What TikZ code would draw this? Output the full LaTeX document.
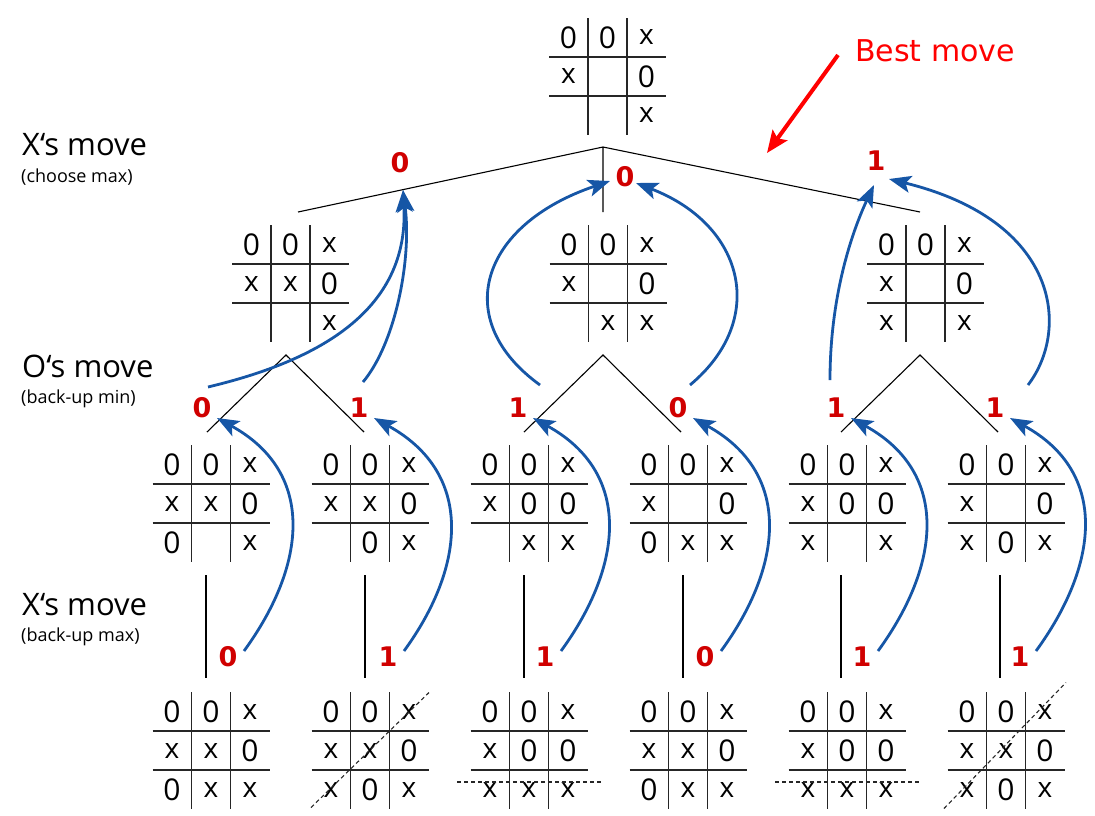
\documentclass[tikz,border=0pt]{standalone}
\usepackage{fontspec}
\setmainfont{Open Sans}
\newfontfamily\numfont{DejaVu Sans}
\usetikzlibrary{arrows.meta}
\definecolor{valred}{RGB}{208,0,0}
\definecolor{arrowblue}{RGB}{22,86,166}
\definecolor{bestred}{RGB}{255,0,0}
\tikzset{
  grid/.style={draw=black!85, line width=1.4pt},
  cell/.style={inner sep=0pt, font=\fontsize{30}{30}\selectfont},
  treeline/.style={draw=black, line width=1.1pt},
  val/.style={inner sep=0pt, text=valred, font=\numfont\bfseries\fontsize{27}{27}\selectfont},
  backup/.style={draw=arrowblue, line width=2.8pt, -{Stealth[length=22pt,width=17pt,inset=5pt]}},
  winline/.style={draw=black!85, line width=1.1pt, dash pattern=on 4pt off 3pt},
  rowlabel/.style={anchor=base west, inner sep=0pt, font=\fontsize{31}{31}\selectfont},
  rowsub/.style={anchor=base west, inner sep=0pt, font=\fontsize{18}{18}\selectfont},
  bestlabel/.style={anchor=base west, inner sep=0pt, text=bestred, font=\numfont\fontsize{30}{30}\selectfont},
}
\newcommand\mkx{{\fontsize{28}{28}\selectfont x}}
\newcommand\tttboard[3]{%
  \coordinate (#1) at (#2);
  \begin{scope}[shift={(#1)}]
    \draw[grid] (-19.5,-58.5) -- (-19.5,58.5) (19.5,-58.5) -- (19.5,58.5)
                (-58.5,-19.5) -- (58.5,-19.5) (-58.5,19.5) -- (58.5,19.5);
    \foreach \s [count=\k from 0] in {#3} {
      \pgfmathtruncatemacro\cc{mod(\k,3)}
      \pgfmathtruncatemacro\rr{\k/3}
      \node[cell] (#1-\k) at ({(\cc-1)*39},{(\rr-1)*39}) {\s};
    }
  \end{scope}
}
\begin{document}
\begin{tikzpicture}[x=1pt,y=-1pt]
\useasboundingbox (0,0) rectangle (1095,815);

% row labels
\node[rowlabel] (lab1) at (22,155) {X‘s move};
\node[rowsub] (sub1) at (21,182) {(choose max)};
\node[rowlabel] (lab2) at (22,377) {O‘s move};
\node[rowsub] (sub2) at (21,403) {(back-up min)};
\node[rowlabel] (lab3) at (22,615) {X‘s move};
\node[rowsub] (sub3) at (21,641) {(back-up max)};

% boards
\tttboard{b0}{607.5,76.5}{0,0,\mkx,\mkx,{},0,{},{},\mkx}
\tttboard{b1}{290.5,283.5}{0,0,\mkx,\mkx,\mkx,0,{},{},\mkx}
\tttboard{b2}{608,283.5}{0,0,\mkx,\mkx,{},0,{},\mkx,\mkx}
\tttboard{b3}{925.5,283.5}{0,0,\mkx,\mkx,{},0,\mkx,{},\mkx}

\tttboard{c1}{211,503.5}{0,0,\mkx,\mkx,\mkx,0,0,{},\mkx}
\tttboard{c2}{370,503.5}{0,0,\mkx,\mkx,\mkx,0,{},0,\mkx}
\tttboard{c3}{529,503.5}{0,0,\mkx,\mkx,0,0,{},\mkx,\mkx}
\tttboard{c4}{688,503.5}{0,0,\mkx,\mkx,{},0,0,\mkx,\mkx}
\tttboard{c5}{847,503.5}{0,0,\mkx,\mkx,0,0,\mkx,{},\mkx}
\tttboard{c6}{1006,503.5}{0,0,\mkx,\mkx,{},0,\mkx,0,\mkx}

\tttboard{d1}{211,750.5}{0,0,\mkx,\mkx,\mkx,0,0,\mkx,\mkx}
\tttboard{d2}{370,750.5}{0,0,\mkx,\mkx,\mkx,0,\mkx,0,\mkx}
\tttboard{d3}{529,750.5}{0,0,\mkx,\mkx,0,0,\mkx,\mkx,\mkx}
\tttboard{d4}{688,750.5}{0,0,\mkx,\mkx,\mkx,0,0,\mkx,\mkx}
\tttboard{d5}{847,750.5}{0,0,\mkx,\mkx,0,0,\mkx,\mkx,\mkx}
\tttboard{d6}{1006,750.5}{0,0,\mkx,\mkx,\mkx,0,\mkx,0,\mkx}

% winning lines
\draw[winline] ([shift={(-59,57)}]d2) -- ([shift={(59,-58)}]d2);
\draw[winline] ([shift={(-72,31.5)}]d3) -- ([shift={(73,31.5)}]d3);
\draw[winline] ([shift={(-72,31.5)}]d5) -- ([shift={(73,31.5)}]d5);
\draw[winline] ([shift={(-62,58)}]d6) -- ([shift={(60,-68)}]d6);

% tree lines
\coordinate (t0) at (603,147);
\coordinate (t0a) at (298,212);
\coordinate (t0b) at (603,212);
\coordinate (t0c) at (920,212);
\draw[treeline] (t0a) -- (t0) -- (t0c) (t0) -- (t0b);
\foreach \n/\ax in {1/286,2/603,3/920} {
  \coordinate (t1-\n) at (\ax,355);
  \coordinate (t1-\n l) at (\ax-79,432);
  \coordinate (t1-\n r) at (\ax+78,432);
  \draw[treeline] (t1-\n l) -- (t1-\n) -- (t1-\n r);
}
\foreach \n/\vx in {1/206,2/365,3/524,4/683,5/841,6/1000} {
  \coordinate (t2-\n a) at (\vx,575);
  \coordinate (t2-\n b) at (\vx,678);
  \draw[treeline] (t2-\n a) -- (t2-\n b);
}

% values
\node[val] (r1a) at (400,163) {0};
\node[val] (r1b) at (625,177) {0};
\node[val] (r1c) at (876,161) {1};
\foreach \n/\lx/\v in {1/202/0,2/359/1,3/518/1,4/678/0,5/836/1,6/995/1} {
  \node[val] (r2-\n) at (\lx,408) {\v};
}
\foreach \n/\lx/\v in {1/228/0,2/388/1,3/545/1,4/705/0,5/862/1,6/1020/1} {
  \node[val] (r3-\n) at (\lx,657) {\v};
}

% back-up arrows row 3 -> row 2
\foreach \n in {1,...,6} {
  \draw[backup] ([shift={(16,-6)}]r3-\n.center) .. controls +(62,-85) and +(100,55) .. ([shift={(15,10)}]r2-\n.center);
}

% back-up arrows row 2 -> row 1
\draw[backup] ([shift={(6,-21)}]r2-1.center) .. controls +(92,-22) and +(7,130) .. ([shift={(3,27)}]r1a.center);
\draw[backup] ([shift={(4,-26)}]r2-2.center) .. controls +(32,-38) and +(9,70) .. ([shift={(3,27)}]r1a.center);
\draw[backup] ([shift={(22,-23)}]r2-3.center) .. controls +(-90,-65) and +(-130,44) .. ([shift={(-15,4)}]r1b.center);
\draw[backup] ([shift={(12,-23)}]r2-4.center) .. controls +(78,-65) and +(109,42) .. ([shift={(11,6)}]r1b.center);
\draw[backup] ([shift={(-6,-28)}]r2-5.center) .. controls +(0,-80) and +(-24,51) .. ([shift={(-2,24)}]r1c.center);
\draw[backup] ([shift={(33,-23)}]r2-6.center) .. controls +(42,-55) and +(171,42) .. ([shift={(13,18)}]r1c.center);

% best move
\node[bestlabel] (best) at (855,61) {Best move};
\coordinate (bmtail) at (838,55);
\coordinate (bmtip) at (767,153);
\draw[draw=bestred, line width=4pt, -{Stealth[length=22pt,width=18pt,inset=4pt]}] (bmtail) -- (bmtip);
\end{tikzpicture}
\end{document}
